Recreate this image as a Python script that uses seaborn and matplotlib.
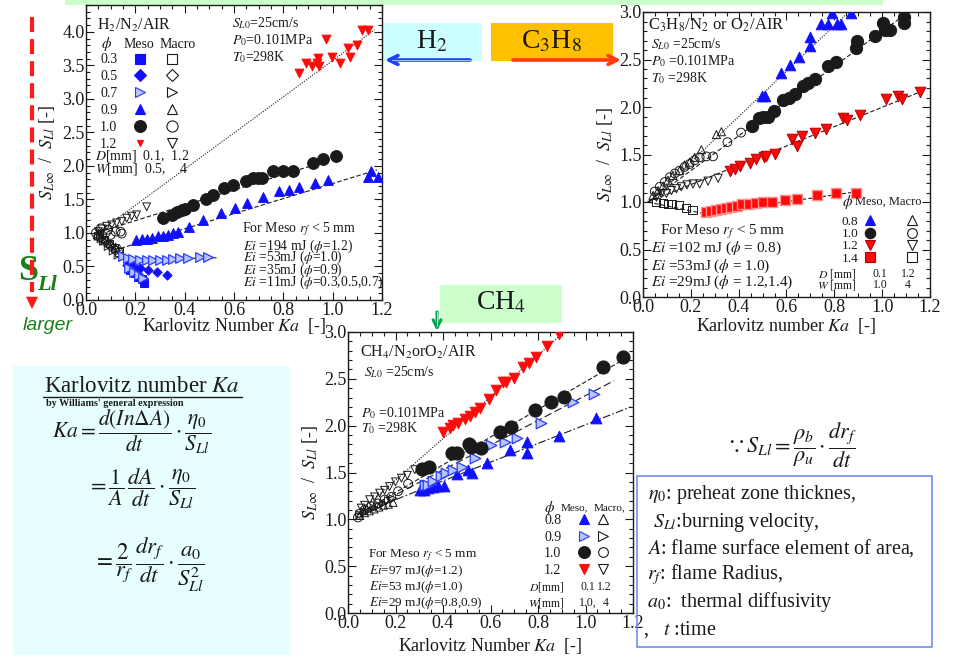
import numpy as np
import pandas as pd
import seaborn as sns
import matplotlib.pyplot as plt
from matplotlib.lines import Line2D
from matplotlib.patches import Rectangle, FancyArrowPatch
from matplotlib.legend_handler import HandlerTuple
from matplotlib.ticker import MultipleLocator, FormatStrFormatter

# ------------------------ H2/N2/AIR (Ka, S_Linf/S_Ll) ------------------------
h2_meso_12_ka = [0.864, 0.892, 0.915, 0.936, 0.939, 0.946, 0.973, 0.996, 1.031, 1.062, 1.070, 1.097, 1.118, 1.145]
h2_meso_12_r = [3.38, 3.53, 3.49, 3.54, 3.61, 3.49, 3.90, 3.62, 3.53, 3.76, 3.63, 3.81, 4.02, 4.02]
h2_macro_12_ka = [0.05, 0.065, 0.084, 0.104, 0.124, 0.145, 0.165, 0.185, 0.205, 0.246]
h2_macro_12_r = [1.02, 1.06, 1.10, 1.12, 1.15, 1.17, 1.22, 1.25, 1.27, 1.39]

h2_meso_10_ka = [0.314, 0.347, 0.368, 0.388, 0.401, 0.435, 0.485, 0.516, 0.559, 0.597, 0.647, 0.676, 0.699,
                 0.712, 0.759, 0.797, 0.838, 0.919, 0.962, 1.014]
h2_meso_10_r = [1.22, 1.27, 1.31, 1.34, 1.35, 1.42, 1.50, 1.57, 1.67, 1.72, 1.78, 1.82, 1.82,
                1.82, 1.92, 1.92, 1.92, 2.05, 2.10, 2.15]
h2_macro_10_ka = [0.04, 0.05, 0.06, 0.07, 0.08, 0.09, 0.10, 0.12, 0.14, 0.145]
h2_macro_10_r = [1.00, 0.95, 1.07, 0.92, 1.00, 1.05, 0.97, 1.02, 1.02, 0.99]

h2_meso_09_ka = [0.203, 0.226, 0.246, 0.266, 0.293, 0.314, 0.334, 0.354, 0.374, 0.419, 0.476, 0.546, 0.605,
                 0.654, 0.716, 0.784, 0.824, 0.865, 0.930, 0.982, 1.142, 1.155, 1.182]
h2_meso_09_r = [0.89, 0.91, 0.91, 0.92, 0.95, 0.96, 0.97, 1.00, 1.02, 1.09, 1.20, 1.30, 1.37,
                1.44, 1.53, 1.62, 1.64, 1.68, 1.75, 1.79, 1.84, 1.93, 1.84]
h2_macro_09_ka = [0.045, 0.06, 0.075, 0.09, 0.105, 0.12, 0.135]
h2_macro_09_r = [0.97, 0.92, 0.88, 0.85, 0.82, 0.79, 0.77]

h2_meso_07_ka = [0.151, 0.172, 0.192, 0.219, 0.246, 0.273, 0.300, 0.327, 0.354, 0.381, 0.415, 0.462, 0.496,
                 0.176, 0.196, 0.216, 0.230]
h2_meso_07_r = [0.65, 0.62, 0.61, 0.60, 0.60, 0.60, 0.60, 0.60, 0.61, 0.62, 0.62, 0.64, 0.64,
                0.47, 0.42, 0.37, 0.33]
h2_macro_07_ka = [0.05, 0.07, 0.09, 0.11, 0.13]
h2_macro_07_r = [0.95, 0.88, 0.80, 0.73, 0.67]

h2_meso_05_ka = [0.165, 0.192, 0.219, 0.253, 0.286, 0.327]
h2_meso_05_r = [0.52, 0.50, 0.47, 0.45, 0.42, 0.37]
h2_macro_05_ka = [0.06, 0.08, 0.10, 0.12]
h2_macro_05_r = [0.93, 0.87, 0.80, 0.74]

h2_meso_03_ka = [0.178, 0.199, 0.212, 0.226, 0.235]
h2_meso_03_r = [0.45, 0.40, 0.35, 0.31, 0.26]
h2_macro_03_ka = [0.055, 0.075, 0.095, 0.115, 0.135]
h2_macro_03_r = [0.98, 0.90, 0.84, 0.78, 0.72]

# fitted lines (end points)
h2_fit_12 = ([0.04, 1.17], [0.98, 4.03])
h2_fit_10 = ([0.04, 1.00], [1.00, 2.10])
h2_fit_09 = ([0.14, 1.18], [0.77, 1.94])
h2_fit_09m = ([0.04, 0.14], [1.00, 0.77])
h2_fit_07m = ([0.04, 0.16], [1.05, 0.60])
h2_fit_07 = ([0.16, 0.53], [0.60, 0.63])

# ------------------------ C3H8/N2 or O2/AIR ------------------------
c3_meso_08_ka = [0.498, 0.512, 0.579, 0.614, 0.653, 0.698, 0.700, 0.746, 0.774, 0.791, 0.812, 0.826, 0.869]
c3_meso_08_r = [2.12, 2.12, 2.36, 2.44, 2.53, 2.74, 2.64, 2.87, 2.87, 2.99, 2.87, 2.87, 2.99]
c3_macro_08_ka = [0.042, 0.063, 0.084, 0.104, 0.125, 0.153, 0.174, 0.195, 0.216, 0.244, 0.307, 0.328]
c3_macro_08_r = [1.07, 1.12, 1.17, 1.23, 1.28, 1.33, 1.39, 1.42, 1.47, 1.55, 1.71, 1.74]

c3_meso_10_ka = [0.456, 0.486, 0.502, 0.523, 0.548, 0.586, 0.611, 0.635, 0.667, 0.691, 0.718, 0.774, 0.805,
                 0.890, 0.893, 0.971, 1.002, 1.012, 1.033, 1.091, 1.093]
c3_meso_10_r = [1.80, 1.88, 1.89, 1.90, 1.96, 2.07, 2.10, 2.14, 2.22, 2.25, 2.30, 2.43, 2.47,
                2.62, 2.69, 2.75, 2.88, 2.81, 2.81, 2.95, 2.88]
c3_macro_10_ka = [0.049, 0.07, 0.091, 0.112, 0.133, 0.153, 0.174, 0.195, 0.216, 0.237, 0.265, 0.293, 0.353, 0.41]
c3_macro_10_r = [1.11, 1.16, 1.21, 1.26, 1.30, 1.33, 1.37, 1.40, 1.44, 1.47, 1.48, 1.48, 1.63, 1.73]

c3_meso_12_ka = [0.363, 0.384, 0.405, 0.446, 0.474, 0.505, 0.516, 0.554, 0.625, 0.642, 0.663, 0.718, 0.765,
                 0.837, 0.851, 0.907, 1.016, 1.067, 1.084, 1.158]
c3_meso_12_r = [1.33, 1.35, 1.38, 1.41, 1.45, 1.47, 1.48, 1.51, 1.66, 1.59, 1.70, 1.73, 1.77,
                1.88, 1.86, 1.92, 2.08, 2.12, 2.08, 2.16]
c3_macro_12_ka = [0.056, 0.077, 0.098, 0.119, 0.14, 0.16, 0.184, 0.209, 0.237, 0.272, 0.314]
c3_macro_12_r = [1.05, 1.09, 1.09, 1.12, 1.14, 1.16, 1.18, 1.19, 1.19, 1.22, 1.25]

c3_meso_14_ka = [0.262, 0.286, 0.307, 0.328, 0.349, 0.370, 0.391, 0.416, 0.444, 0.474, 0.502, 0.541, 0.593,
                 0.645, 0.728, 0.805, 0.889]
c3_meso_14_r = [0.90, 0.905, 0.92, 0.93, 0.94, 0.95, 0.954, 0.975, 0.98, 0.99, 1.00, 1.00, 1.02,
                1.03, 1.07, 1.09, 1.10]
c3_macro_14_ka = [0.056, 0.084, 0.105, 0.123, 0.151, 0.179, 0.207]
c3_macro_14_r = [1.00, 0.99, 0.98, 0.975, 0.965, 0.94, 0.92]

c3_fit_08 = ([0.02, 0.86], [0.99, 3.00])
c3_fit_10 = ([0.02, 1.10], [1.00, 2.98])
c3_fit_12 = ([0.02, 1.18], [1.00, 2.18])
c3_fit_14m = ([0.02, 0.25], [1.00, 0.88])
c3_fit_14 = ([0.25, 0.90], [0.88, 1.11])

# ------------------------ CH4/N2orO2/AIR ------------------------
ch4_meso_12_ka = [0.40, 0.428, 0.442, 0.463, 0.491, 0.512, 0.533, 0.554, 0.592, 0.622, 0.653, 0.667, 0.698,
                  0.737, 0.762, 0.793, 0.838, 0.888]
ch4_meso_12_r = [1.93, 1.98, 2.01, 2.03, 2.07, 2.10, 2.15, 2.19, 2.29, 2.38, 2.47, 2.47, 2.51,
                 2.63, 2.67, 2.73, 2.85, 2.98]
ch4_macro_12_ka = [0.056, 0.07, 0.091, 0.112, 0.133, 0.154, 0.175, 0.20, 0.225, 0.25, 0.281]
ch4_macro_12_r = [1.12, 1.15, 1.21, 1.24, 1.28, 1.31, 1.35, 1.40, 1.44, 1.47, 1.53]

ch4_meso_10_ka = [0.313, 0.341, 0.438, 0.46, 0.509, 0.519, 0.559, 0.639, 0.685, 0.786, 0.853, 0.908, 1.074, 1.158]
ch4_meso_10_r = [1.54, 1.56, 1.71, 1.71, 1.80, 1.77, 1.76, 1.93, 1.99, 2.17, 2.25, 2.31, 2.63, 2.73]
ch4_macro_10_ka = [0.042, 0.049, 0.07, 0.098, 0.126, 0.154, 0.182, 0.211, 0.253]
ch4_macro_10_r = [1.02, 1.06, 1.10, 1.14, 1.17, 1.21, 1.24, 1.30, 1.38]

ch4_meso_09_ka = [0.323, 0.338, 0.358, 0.393, 0.414, 0.442, 0.48, 0.536, 0.604, 0.66, 0.712, 0.814, 0.947, 1.034]
ch4_meso_09_r = [1.37, 1.37, 1.41, 1.46, 1.49, 1.53, 1.56, 1.66, 1.79, 1.83, 1.87, 2.03, 2.25, 2.34]
ch4_macro_09_ka = [0.05, 0.07, 0.09, 0.11, 0.13, 0.15, 0.17, 0.19]
ch4_macro_09_r = [1.05, 1.08, 1.10, 1.12, 1.15, 1.17, 1.20, 1.22]

ch4_meso_08_ka = [0.302, 0.32, 0.337, 0.358, 0.379, 0.403, 0.459, 0.505, 0.523, 0.587, 0.681, 0.754, 0.755,
                  0.888, 1.043]
ch4_meso_08_r = [1.31, 1.31, 1.33, 1.34, 1.36, 1.36, 1.48, 1.53, 1.50, 1.60, 1.74, 1.83, 1.71, 1.89, 2.08]
ch4_macro_08_ka = [0.05, 0.07, 0.09, 0.11, 0.13, 0.15, 0.17, 0.19]
ch4_macro_08_r = [1.04, 1.07, 1.09, 1.11, 1.13, 1.15, 1.16, 1.18]

ch4_fit_12 = ([0.04, 0.91], [1.06, 3.00])
ch4_fit_10 = ([0.04, 1.17], [1.05, 2.72])
ch4_fit_09 = ([0.04, 1.12], [1.05, 2.48])
ch4_fit_08 = ([0.04, 1.19], [1.05, 2.20])

h2_phi = ['0.3', '0.5', '0.7', '0.9', '1.0', '1.2']
c3_phi = ['0.8', '1.0', '1.2', '1.4']
ch4_phi = ['0.8', '0.9', '1.0', '1.2']

# ------------------------ style ------------------------
sns.set_theme(style='ticks')
plt.rcParams['font.family'] = ['Liberation Serif', 'DejaVu Serif']
plt.rcParams['mathtext.fontset'] = 'stix'

W, H = 962, 657
fig = plt.figure(figsize=(W / 100, H / 100), dpi=100)
fig.patch.set_facecolor('white')

BLUE = '#1010ff'
RED = '#ff0a0a'
LBLUE = '#b8c4ff'


def fx(x):
    return x / W


def fy(y):
    return 1 - y / H


def add_box(x0, y0, x1, y1, fc, ec='none', lw=0, z=-5):
    fig.add_artist(Rectangle((fx(x0), fy(y1)), (x1 - x0) / W, (y1 - y0) / H, transform=fig.transFigure,
                             facecolor=fc, edgecolor=ec, linewidth=lw, zorder=z))


def make_axes(l, t, r, b):
    return fig.add_axes([fx(l), fy(b), (r - l) / W, (b - t) / H])


def style_axes(ax, ymax, ylab_pad, xlab_pad, xlabel):
    ax.set_xlim(0, 1.2)
    ax.set_ylim(0, ymax)
    ax.xaxis.set_major_locator(MultipleLocator(0.2))
    ax.xaxis.set_minor_locator(MultipleLocator(0.05))
    ax.yaxis.set_major_locator(MultipleLocator(0.5))
    ax.yaxis.set_minor_locator(MultipleLocator(0.1))
    ax.xaxis.set_major_formatter(FormatStrFormatter('%.1f'))
    ax.yaxis.set_major_formatter(FormatStrFormatter('%.1f'))
    ax.tick_params(which='both', direction='in', top=True, right=True, color='k', width=0.8,
                   labelcolor='k', labelsize=13)
    ax.tick_params(which='major', length=6)
    ax.tick_params(which='minor', length=3)
    ax.tick_params(axis='x', pad=1.5)
    ax.tick_params(axis='y', pad=1.0)
    for sp in ax.spines.values():
        sp.set_color('k')
        sp.set_linewidth(1.0)
    ax.set_xlabel(xlabel, fontsize=13, labelpad=xlab_pad, color='k')
    ax.set_ylabel(r'$S_{L\infty}$  /  $S_{Ll}$ [-]', fontsize=13, labelpad=ylab_pad, color='k')
    ax.grid(False)


def pts(ax, ka, r, marker, s, fc, ec, lw=0.7):
    sns.scatterplot(x=ka, y=r, ax=ax, marker=marker, s=s, facecolor=fc, edgecolor=ec,
                    linewidth=lw, legend=False, zorder=3)


def fit(ax, line, ls):
    sns.lineplot(x=line[0], y=line[1], ax=ax, color='k', linestyle=ls, linewidth=0.8,
                 legend=False, zorder=2)


def txt(ax, x, y, s, fs, ha='left', **kw):
    ax.text(x, y, s, transform=ax.transAxes, fontsize=fs, ha=ha, va='center', color='k', **kw)


def mk(marker, ms, fc, ec, mew=0.8):
    return Line2D([], [], linestyle='none', marker=marker, markersize=ms, markerfacecolor=fc,
                  markeredgecolor=ec, markeredgewidth=mew)


def phi_legend(ax, labels, meso, macro, x0, top, fs, ls, hl, pad, htp):
    handles = [(a, b) for a, b in zip(meso, macro)]
    ax.legend(handles, labels, handler_map={tuple: HandlerTuple(ndivide=None, pad=pad)},
              markerfirst=False, loc='upper left', bbox_to_anchor=(x0, top), bbox_transform=ax.transAxes,
              frameon=False, borderpad=0, borderaxespad=0, fontsize=fs, labelspacing=ls,
              handlelength=hl, handletextpad=htp, labelcolor='k')


DOT = (0, (1, 1.3))
DASH = (0, (4, 2))
LDASH = (0, (7, 3))
DASHDOT = (0, (7, 2, 1.5, 2))

# ------------------------ background boxes ------------------------
add_box(65, 0, 883, 5, '#ccffcc')
add_box(383, 23, 482, 61, '#ccffff')
add_box(491, 23, 613, 61, '#ffc000')
add_box(440, 285, 562, 323, '#ccffcc')
add_box(13, 366, 290, 655, '#e6fefe')
add_box(637, 476, 932, 647, 'none', ec='#7090f0', lw=1.2, z=5)

# ------------------------ H2 plot ------------------------
ax1 = make_axes(86, 5, 382, 300)
style_axes(ax1, 4.4, 4, -2, r'Karlovitz Number $Ka$  [-]')
fit(ax1, h2_fit_12, DOT)
fit(ax1, h2_fit_10, DASH)
fit(ax1, h2_fit_09, DASH)
fit(ax1, h2_fit_09m, DASH)
fit(ax1, h2_fit_07m, DASH)
fit(ax1, h2_fit_07, DASH)
pts(ax1, h2_macro_03_ka, h2_macro_03_r, 's', 30, 'none', 'k')
pts(ax1, h2_macro_05_ka, h2_macro_05_r, 'D', 24, 'none', 'k')
pts(ax1, h2_macro_07_ka, h2_macro_07_r, '>', 32, 'none', 'k')
pts(ax1, h2_macro_09_ka, h2_macro_09_r, '^', 32, 'none', 'k')
pts(ax1, h2_macro_10_ka, h2_macro_10_r, 'o', 40, 'none', 'k')
pts(ax1, h2_macro_12_ka, h2_macro_12_r, 'v', 32, 'none', 'k')
pts(ax1, h2_meso_03_ka, h2_meso_03_r, 's', 26, BLUE, BLUE)
pts(ax1, h2_meso_05_ka, h2_meso_05_r, 'D', 22, BLUE, BLUE)
pts(ax1, h2_meso_07_ka, h2_meso_07_r, '>', 48, LBLUE, '#2a3cff', 0.9)
pts(ax1, h2_meso_09_ka, h2_meso_09_r, '^', 50, BLUE, BLUE)
pts(ax1, h2_meso_10_ka, h2_meso_10_r, 'o', 72, 'k', 'k')
pts(ax1, h2_meso_12_ka, h2_meso_12_r, 'v', 40, RED, RED)

txt(ax1, 0.036, 0.932, r'H$_2$/N$_2$/AIR', 11.5)
txt(ax1, 0.050, 0.867, r'$\phi$', 11)
txt(ax1, 0.180, 0.867, 'Meso', 10, ha='center')
txt(ax1, 0.308, 0.867, 'Macro', 10, ha='center')
phi_legend(ax1, h2_phi,
           [mk('s', 7, BLUE, BLUE), mk('D', 6, BLUE, BLUE), mk('>', 7, LBLUE, '#2a3cff'),
            mk('^', 7.5, BLUE, BLUE), mk('o', 8.5, 'k', 'k'), mk('v', 5, RED, RED)],
           [mk('s', 7, 'none', 'k'), mk('D', 6, 'none', 'k'), mk('>', 7.5, 'none', 'k'),
            mk('^', 7.5, 'none', 'k'), mk('o', 8, 'none', 'k'), mk('v', 7.5, 'none', 'k')],
           0.047, 0.836, 10, 0.28, 2.88, 1.68, 1.35)
txt(ax1, 0.030, 0.488, r'$D$[mm]  0.1,  1.2', 10)
txt(ax1, 0.030, 0.443, r'$W$[mm]  0.5,    4', 10)
txt(ax1, 0.493, 0.938, r'$S_{L0}$=25cm/s', 10)
txt(ax1, 0.493, 0.881, r'$P_0$=0.101MPa', 10)
txt(ax1, 0.493, 0.825, r'$T_0$=298K', 10)
txt(ax1, 0.526, 0.240, r'For Meso $r_f$ < 5 mm', 10)
txt(ax1, 0.530, 0.183, r'$Ei$ =194 mJ ($\phi$=1.2)', 9.8)
txt(ax1, 0.530, 0.143, r'$Ei$ =53mJ ($\phi$=1.0)', 9.8)
txt(ax1, 0.530, 0.102, r'$Ei$ =35mJ ($\phi$=0.9)', 9.8)
txt(ax1, 0.530, 0.059, r'$Ei$ =11mJ ($\phi$=0.3,0.5,0.7)', 9.8)

# ------------------------ C3H8 plot ------------------------
ax2 = make_axes(643, 12, 930, 297)
style_axes(ax2, 3.0, 3, 0, r'Karlovitz number $Ka$  [-]')
fit(ax2, c3_fit_08, DOT)
fit(ax2, c3_fit_10, DASH)
fit(ax2, c3_fit_12, DASH)
fit(ax2, c3_fit_14m, DASH)
fit(ax2, c3_fit_14, DASH)
pts(ax2, c3_macro_08_ka, c3_macro_08_r, '^', 34, 'none', 'k')
pts(ax2, c3_macro_10_ka, c3_macro_10_r, 'o', 40, 'none', 'k')
pts(ax2, c3_macro_12_ka, c3_macro_12_r, 'v', 34, 'none', 'k')
pts(ax2, c3_macro_14_ka, c3_macro_14_r, 's', 34, 'none', 'k')
pts(ax2, c3_meso_08_ka, c3_meso_08_r, '^', 58, BLUE, BLUE)
pts(ax2, c3_meso_10_ka, c3_meso_10_r, 'o', 78, 'k', 'k')
pts(ax2, c3_meso_12_ka, c3_meso_12_r, 'v', 58, RED, '#b00000')
pts(ax2, c3_meso_14_ka, c3_meso_14_r, 's', 56, RED, '#ff9090', 1.0)

txt(ax2, 0.017, 0.953, r'C$_3$H$_8$/N$_2$ or O$_2$/AIR', 12)
txt(ax2, 0.029, 0.889, r'$S_{L0}$ =25cm/s', 10)
txt(ax2, 0.029, 0.827, r'$P_0$ =0.101MPa', 10)
txt(ax2, 0.029, 0.768, r'$T_0$ =298K', 10)
txt(ax2, 0.058, 0.228, r'For Meso $r_f$ < 5 mm', 11)
txt(ax2, 0.029, 0.170, r'$Ei$ =102 mJ ($\phi$ = 0.8)', 11)
txt(ax2, 0.029, 0.109, r'$Ei$ =53mJ ($\phi$ = 1.0)', 11)
txt(ax2, 0.029, 0.053, r'$Ei$ =29mJ ($\phi$ = 1.2,1.4)', 11)
txt(ax2, 0.694, 0.333, r'$\phi$', 11)
txt(ax2, 0.738, 0.333, 'Meso, Macro', 9)
phi_legend(ax2, c3_phi,
           [mk('^', 7, BLUE, BLUE), mk('o', 7.5, 'k', 'k'), mk('v', 7, RED, '#b00000'), mk('s', 7, RED, '#b00000')],
           [mk('^', 7, 'none', 'k'), mk('o', 7, 'none', 'k'), mk('v', 7, 'none', 'k'), mk('s', 7, 'none', 'k')],
           0.692, 0.285, 9.5, 0.0, 3.79, 2.65, 0.56)
txt(ax2, 0.744, 0.082, r'$D$ [mm]', 8.5, ha='right')
txt(ax2, 0.826, 0.082, '0.1', 8.5, ha='center')
txt(ax2, 0.924, 0.082, '1.2', 8.5, ha='center')
txt(ax2, 0.744, 0.043, r'$W$ [mm]', 8.5, ha='right')
txt(ax2, 0.826, 0.043, '1.0', 8.5, ha='center')
txt(ax2, 0.924, 0.043, '4', 8.5, ha='center')

# ------------------------ CH4 plot ------------------------
ax3 = make_axes(348, 332, 633, 613)
style_axes(ax3, 3.0, 3, 3, r'Karlovitz Number $Ka$  [-]')
fit(ax3, ch4_fit_12, DOT)
fit(ax3, ch4_fit_10, DASH)
fit(ax3, ch4_fit_09, LDASH)
fit(ax3, ch4_fit_08, DASHDOT)
pts(ax3, ch4_macro_08_ka, ch4_macro_08_r, '^', 32, 'none', 'k')
pts(ax3, ch4_macro_09_ka, ch4_macro_09_r, '>', 32, 'none', 'k')
pts(ax3, ch4_macro_10_ka, ch4_macro_10_r, 'o', 40, 'none', 'k')
pts(ax3, ch4_macro_12_ka, ch4_macro_12_r, 'v', 32, 'none', 'k')
pts(ax3, ch4_meso_08_ka, ch4_meso_08_r, '^', 60, BLUE, BLUE)
pts(ax3, ch4_meso_09_ka, ch4_meso_09_r, '>', 58, LBLUE, '#2a3cff', 0.9)
pts(ax3, ch4_meso_10_ka, ch4_meso_10_r, 'o', 90, 'k', 'k')
pts(ax3, ch4_meso_12_ka, ch4_meso_12_r, 'v', 58, RED, RED)

txt(ax3, 0.043, 0.929, r'CH$_4$/N$_2$orO$_2$/AIR', 11.5)
txt(ax3, 0.055, 0.858, r'$S_{L0}$ =25cm/s', 10)
txt(ax3, 0.047, 0.712, r'$P_0$ =0.101MPa', 10)
txt(ax3, 0.047, 0.657, r'$T_0$ =298K', 10)
txt(ax3, 0.070, 0.207, r'For Meso $r_f$ < 5 mm', 9.5)
txt(ax3, 0.074, 0.148, r'$Ei$=97 mJ($\phi$=1.2)', 9.5)
txt(ax3, 0.074, 0.092, r'$Ei$=53 mJ($\phi$=1.0)', 9.5)
txt(ax3, 0.074, 0.036, r'$Ei$=29 mJ($\phi$=0.8,0.9)', 9.5)
txt(ax3, 0.708, 0.373, r'$\phi$', 11, ha='center')
txt(ax3, 0.795, 0.373, 'Meso,', 8, ha='center')
txt(ax3, 0.918, 0.373, 'Macro,', 8, ha='center')
phi_legend(ax3, ch4_phi,
           [mk('^', 7.5, BLUE, BLUE), mk('>', 7.5, LBLUE, '#2a3cff'), mk('o', 8.5, 'k', 'k'), mk('v', 6.5, RED, RED)],
           [mk('^', 7, 'none', 'k'), mk('>', 7, 'none', 'k'), mk('o', 7, 'none', 'k'), mk('v', 7, 'none', 'k')],
           0.688, 0.352, 10, 0.25, 1.73, 0.94, 1.46)
txt(ax3, 0.760, 0.092, r'$D$[mm]', 8.5, ha='right')
txt(ax3, 0.842, 0.092, '0.1', 8.5, ha='center')
txt(ax3, 0.900, 0.092, '1.2', 8.5, ha='center')
txt(ax3, 0.760, 0.036, r'$W$[mm]', 8.5, ha='right')
txt(ax3, 0.842, 0.036, '1.0,', 8.5, ha='center')
txt(ax3, 0.905, 0.036, '4', 8.5, ha='center')

# ------------------------ labels, arrows, formulas ------------------------
fig.text(fx(432), fy(42), r'H$_2$', fontsize=20, ha='center', va='center', color='k')
fig.text(fx(552), fy(42), r'C$_3$H$_8$', fontsize=20, ha='center', va='center', color='k')
fig.text(fx(501), fy(303), r'CH$_4$', fontsize=20, ha='center', va='center', color='k')


def arrow(x0, y0, x1, y1, color, lw, style='->', ms=16, z=6):
    fig.add_artist(FancyArrowPatch((fx(x0), fy(y0)), (fx(x1), fy(y1)), transform=fig.transFigure,
                                   arrowstyle=style, mutation_scale=ms, color=color, lw=lw,
                                   shrinkA=0, shrinkB=0, zorder=z))


arrow(470, 60, 385, 60, '#1f3fff', 2.6)
fig.add_artist(Line2D([fx(392), fx(470)], [fy(60), fy(60)], transform=fig.transFigure,
                      color='#a8b8ff', lw=0.8, zorder=7))
arrow(513, 60, 621, 60, '#ff3a10', 2.6)
arrow(437, 312, 437, 331, '#00a651', 2.2, ms=14)
fig.add_artist(Line2D([fx(437), fx(437)], [fy(312), fy(326)], transform=fig.transFigure,
                      color='#b0f0c0', lw=0.7, zorder=7))

fig.add_artist(Line2D([fx(32), fx(32)], [fy(17), fy(292)], transform=fig.transFigure,
                      color='#ff1a1a', lw=3, linestyle=(0, (3.6, 1.7)), zorder=6))
arrow(32, 288, 32, 309, '#ff1a1a', 0.01, style='-|>', ms=22)
fig.text(fx(18), fy(272), 'S', fontsize=26, fontweight='bold', color='#1a7f1a', ha='left', va='center')
fig.text(fx(37), fy(285), 'Ll', fontsize=16, fontweight='bold', style='italic', color='#1a7f1a',
         ha='left', va='center')
fig.text(fx(23), fy(325), 'larger', fontsize=14, style='italic', family='Liberation Sans',
         color='#1a7f1a', ha='left', va='center')

fig.text(fx(142), fy(386), r'Karlovitz number $Ka$', fontsize=16.5, ha='center', va='center', color='k')
fig.add_artist(Line2D([fx(43), fx(242)], [fy(397), fy(397)], transform=fig.transFigure, color='k', lw=1))
fig.text(fx(115), fy(403), "by Williams' general expression", fontsize=7.3, fontweight='bold',
         ha='center', va='center', color='k')
fig.text(fx(132), fy(432), r'$Ka=\dfrac{d\left(In\Delta A\right)}{dt}\cdot\dfrac{\eta_0}{S_{Ll}}$',
         fontsize=15.5, ha='center', va='center', color='k')
fig.text(fx(141), fy(489), r'$=\dfrac{1}{A}\,\dfrac{dA}{dt}\cdot\dfrac{\eta_0}{S_{Ll}}$',
         fontsize=16, ha='center', va='center', color='k')
fig.text(fx(149), fy(565), r'$=\dfrac{2}{r_f}\,\dfrac{dr_f}{dt}\cdot\dfrac{a_0}{S_{Ll}^2}$',
         fontsize=16.5, ha='center', va='center', color='k')
fig.text(fx(791), fy(445), r'$\because S_{Ll}=\dfrac{\rho_b}{\rho_u}\cdot\dfrac{dr_f}{dt}$',
         fontsize=16, ha='center', va='center', color='k')

notes = [r'$\eta_0$: preheat zone thicknes,', r' $S_{Ll}$:burning velocity,',
         r'$A$: flame surface element of area,', r'$r_f$: flame Radius,',
         r'$a_0$:  thermal diffusivity', r',   $t$ :time']
note_y = [495, 522, 548, 575, 602, 630]
note_x = [648, 648, 647, 647, 647, 643]
for s, x, y in zip(notes, note_x, note_y):
    fig.text(fx(x), fy(y), s, fontsize=14.5, ha='left', va='center', color='k')

fig.savefig('out.png', dpi=100, facecolor='white')
